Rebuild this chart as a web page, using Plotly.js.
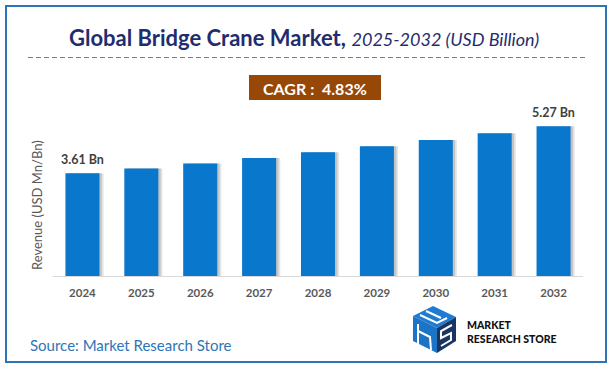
<!DOCTYPE html>
<html>
<head>
<meta charset="utf-8">
<script src="https://cdn.plot.ly/plotly-3.0.1.min.js"></script>
<style>html,body{margin:0;padding:0;background:#fff;}#chart{width:616px;height:373px;}</style>
</head>
<body>
<div id="chart"></div>
<script>
// ---- data ----
const years = ['2024','2025','2026','2027','2028','2029','2030','2031','2032'];
const revenue = [3.61, 3.78, 3.96, 4.15, 4.35, 4.56, 4.78, 5.02, 5.27];
const labelYears = ['2024', '2032'];
const labelValues = [3.61, 5.27];
const labelTexts = ['3.61 Bn', '5.27 Bn'];
const cagrText = 'CAGR :  4.83%';
const titleMain = 'Global Bridge Crane Market,';
const titleSub = '2025-2032 (USD Billion)';
const yAxisTitle = 'Revenue (USD Mn/Bn)';
const sourceText = 'Source: Market Research Store';

// ---- layout geometry ----
const W = 616, H = 373;
const M = {l: 53, r: 33, t: 100, b: 97};
const pw = W - M.l - M.r, ph = H - M.t - M.b;
const px = x => (x - M.l) / pw;
const py = y => (H - M.b - y) / ph;
const yMax = 6.19;
const FONT = 'Lato, "Open Sans", sans-serif';

const barW = 0.578;
const main = {
  type: 'bar', x: years, y: revenue,
  width: barW, offset: -barW / 2,
  marker: {color: '#0877CC', line: {width: 0}},
  hoverinfo: 'x+y', showlegend: false
};
const shadow1 = {
  type: 'bar', x: years, y: revenue,
  width: barW, offset: -barW / 2 + 0.07,
  marker: {color: 'rgba(0,0,0,0.10)', line: {width: 0}},
  hoverinfo: 'skip', showlegend: false
};
const shadow2 = {
  type: 'bar', x: years, y: revenue,
  width: barW, offset: -barW / 2 + 0.04,
  marker: {color: 'rgba(0,0,0,0.14)', line: {width: 0}},
  hoverinfo: 'skip', showlegend: false
};

function pathFrom(pts) {
  return 'M ' + pts.map(p => px(p[0]).toFixed(4) + ',' + py(p[1]).toFixed(4)).join(' L ') + ' Z';
}
function linePath(pts) {
  return 'M ' + pts.map(p => px(p[0]).toFixed(4) + ',' + py(p[1]).toFixed(4)).join(' L ');
}

const shapes = [
  // outer border
  {type: 'rect', xref: 'paper', yref: 'paper', x0: px(6), x1: px(606), y0: py(6), y1: py(362),
   line: {color: '#2E75B6', width: 2}, fillcolor: 'rgba(0,0,0,0)', layer: 'above'},
  // dashed separator
  {type: 'line', xref: 'paper', yref: 'paper', x0: px(28), x1: px(586), y0: py(57.5), y1: py(57.5),
   line: {color: '#5B80C8', width: 1, dash: '5px,3px'}},
  // CAGR box
  {type: 'rect', xref: 'paper', yref: 'paper', x0: px(249), x1: px(381), y0: py(75), y1: py(100),
   line: {width: 0}, fillcolor: '#974806'},
  // logo: cube faces
  {type: 'path', xref: 'paper', yref: 'paper', path: pathFrom([[413,316],[433,306],[456,317],[437,328]]),
   fillcolor: '#1F7BD1', line: {width: 0}},
  {type: 'path', xref: 'paper', yref: 'paper', path: pathFrom([[413,316],[437,328],[437,353],[413,341]]),
   fillcolor: '#1C74C6', line: {width: 0}},
  {type: 'path', xref: 'paper', yref: 'paper', path: pathFrom([[437,328],[456,317],[456,341],[437,353]]),
   fillcolor: '#1A3563', line: {width: 0}},
  // logo: white stripes
  {type: 'path', xref: 'paper', yref: 'paper', path: linePath([[420,315],[437,323],[447,318]]),
   line: {color: '#ffffff', width: 2}},
  {type: 'path', xref: 'paper', yref: 'paper', path: linePath([[426,311],[441,318]]),
   line: {color: '#ffffff', width: 2}},
  {type: 'path', xref: 'paper', yref: 'paper', path: linePath([[418,324],[418,345]]),
   line: {color: '#ffffff', width: 2}},
  {type: 'path', xref: 'paper', yref: 'paper', path: linePath([[418,331],[430,337],[431,350]]),
   line: {color: '#ffffff', width: 2}},
  {type: 'path', xref: 'paper', yref: 'paper', path: linePath([[452,325],[441,331],[441,338],[451,333],[451,340],[441,346]]),
   line: {color: '#ffffff', width: 2}}
];

const annotations = [
  {xref: 'paper', yref: 'paper', x: px(303.5), y: py(37), xanchor: 'center', yanchor: 'middle', showarrow: false,
   text: '<b>' + titleMain + '</b> <i><span style="font-size:18px">' + titleSub + '</span></i>',
   font: {family: FONT, size: 22, color: '#1F2D6E'}},
  {xref: 'paper', yref: 'paper', x: px(315), y: py(88), xanchor: 'center', yanchor: 'middle', showarrow: false,
   text: '<b>' + cagrText + '</b>', font: {family: FONT, size: 16, color: '#ffffff'}},
  {xref: 'paper', yref: 'paper', x: px(37), y: py(205), xanchor: 'center', yanchor: 'middle', showarrow: false,
   textangle: -90, text: yAxisTitle, font: {family: FONT, size: 13, color: '#595959'}},
  {xref: 'paper', yref: 'paper', x: px(28), y: py(345), xanchor: 'left', yanchor: 'middle', showarrow: false,
   text: sourceText, font: {family: FONT, size: 15, color: '#2E75B6'}},
  {xref: 'paper', yref: 'paper', x: px(465), y: py(331.5), xanchor: 'left', yanchor: 'middle', showarrow: false,
   align: 'left', text: 'MARKET<br>RESEARCH STORE', font: {family: FONT, size: 10.5, color: '#111111', weight: 900}}
];
labelYears.forEach((yr, i) => {
  annotations.push({x: years.indexOf(yr), y: labelValues[i], xref: 'x', yref: 'y', xanchor: 'center', yanchor: 'bottom',
    yshift: 4, showarrow: false, text: '<b>' + labelTexts[i] + '</b>',
    font: {family: FONT, size: 12.5, color: '#404040'}});
});

const layout = {
  width: W, height: H,
  margin: M,
  paper_bgcolor: '#ffffff', plot_bgcolor: '#ffffff',
  barmode: 'overlay',
  showlegend: false,
  font: {family: FONT},
  xaxis: {
    type: 'category', categoryorder: 'array', categoryarray: years,
    range: [-0.5, years.length - 0.5],
    showline: true, linecolor: '#D9D9D9', linewidth: 1,
    showgrid: false, zeroline: false, ticks: '',
    tickfont: {family: FONT, size: 11.5, color: '#595959', weight: 'bold'},
    ticklabelstandoff: 6, fixedrange: true
  },
  yaxis: {
    range: [0, yMax], showgrid: false, zeroline: false, showline: false,
    showticklabels: false, ticks: '', fixedrange: true
  },
  shapes: shapes,
  annotations: annotations
};

Plotly.newPlot('chart', [shadow1, shadow2, main], layout, {displayModeBar: false, staticPlot: true});
</script>
</body>
</html>
